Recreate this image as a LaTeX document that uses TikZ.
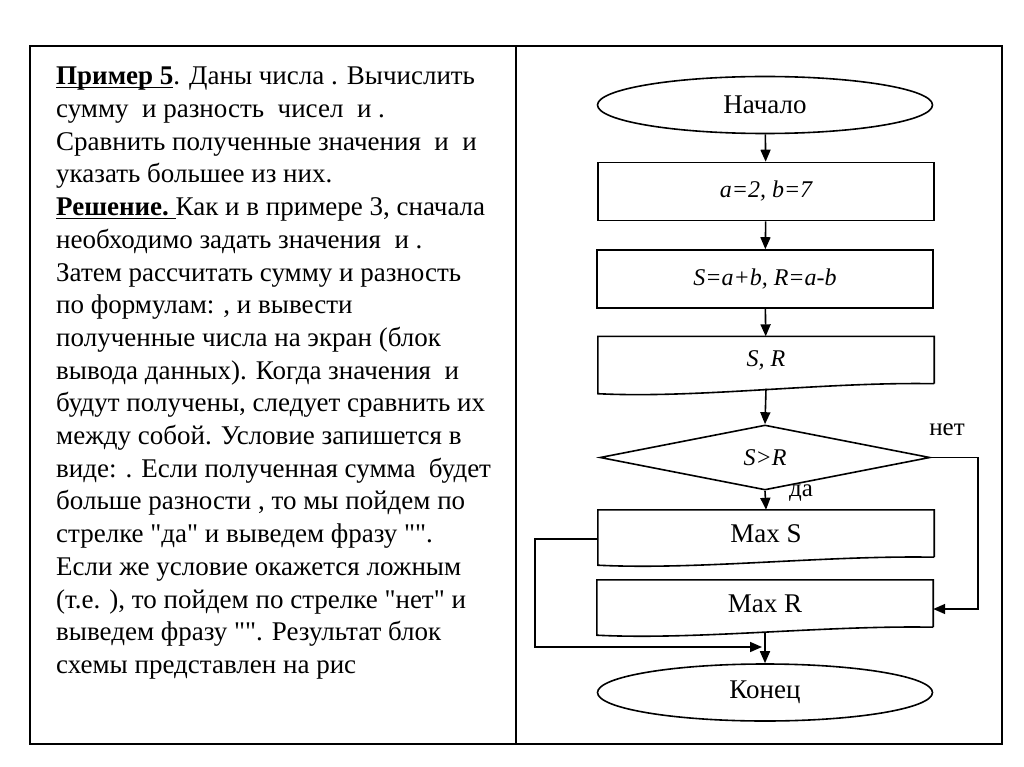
\documentclass[tikz,border=0pt]{standalone}
\usepackage{fontspec}
\setmainfont{Liberation Serif}[Ligatures=TeXOff]
\usetikzlibrary{shapes.geometric}
\usetikzlibrary{arrows.meta}

\tikzset{
    flow/.style={line width=1.6pt},
    arr/.style={flow, -{Triangle[length=12pt,width=10pt]}},
    term/.style={ellipse, draw, flow, minimum width=335pt, minimum height=57pt, inner sep=0pt, font=\fontsize{27}{30}\selectfont},
    proc/.style={rectangle, draw, flow, minimum width=336pt, minimum height=58pt, inner sep=0pt, font=\fontsize{24}{27}\selectfont\itshape},
    docbox/.style={rectangle, minimum width=336pt, minimum height=47pt, inner sep=0pt, font=\fontsize{27}{30}\selectfont},
    cond/.style={diamond, draw, flow, minimum width=330pt, minimum height=65pt, inner sep=0pt, aspect=5, font=\fontsize{24}{27}\selectfont\itshape},
    lbl/.style={font=\fontsize{25}{27}\selectfont, inner sep=0pt}
}

% underline at a fixed depth, crossing the descenders
\newcommand{\wordul}[1]{\setbox0\hbox{#1}\rlap{\rule[-3.6pt]{\wd0}{1.6pt}}\box0}

% outline of a document block with a wavy bottom
\newcommand{\docwave}[2]{%
    \draw[flow] (#1.south east) -- (#1.north east) -- (#1.north west) -- ([yshift=-#2]#1.south west)
        .. controls +(100,5) and +(-110,-2) .. (#1.south east);}

\begin{document}
\begin{tikzpicture}[x=1pt, y=-1pt]
    \useasboundingbox (0,0) rectangle (1024,767);
    %\draw[help lines] grid(1024,767);
    % -------------------------
    % Frame
    % -------------------------
    \draw[line width=2.2pt] (30,46) rectangle (1002,744);
    \draw[line width=2.2pt] (516,46) -- (516,744);

    % -------------------------
    % Left column: text
    % -------------------------
    \node[anchor=north west, inner sep=0pt, align=left, font=\fontsize{27}{32.7}\selectfont] (task) at (56,67) {%
        \wordul{\textbf{Пример 5}}. Даны числа . Вычислить\\
        сумму\ \ и разность\ \ чисел\ \ и .\\
        Сравнить полученные значения\ \ и\ \ и\\
        указать большее из них.\\
        \wordul{\textbf{Решение.}\ }Как и в примере 3, сначала\\
        необходимо задать значения\ \ и .\\
        Затем рассчитать сумму и разность\\
        по формулам: , и вывести\\
        полученные числа на экран (блок\\
        вывода данных). Когда значения\ \ и\\
        будут получены, следует сравнить их\\
        между собой. Условие запишется в\\
        виде: . Если полученная сумма\ \ будет\\
        больше разности , то мы пойдем по\\
        стрелке "да" и выведем фразу "".\\
        Если же условие окажется ложным\\
        (т.е. ), то пойдем по стрелке "нет" и\\
        выведем фразу "". Результат блок\\
        схемы представлен на рис};

    % -------------------------
    % Right column: flowchart
    % -------------------------
    \node[term] (start) at (765,105) {Начало};
    \node[proc] (init) at (766,191.5) {a=2, b=7};
    \node[proc] (calc) at (765,279) {S=a+b, R=a-b};
    \node[docbox, font=\fontsize{24}{27}\selectfont\itshape] (out) at (766,360) {S, R};
    \docwave{out}{10pt}
    \node[cond] (test) at (765,457.5) {S>R};
    \node[docbox] (maxs) at (766,533.5) {Max S};
    \docwave{maxs}{8pt}
    \node[docbox] (maxr) at (765,603.5) {Max R};
    \docwave{maxr}{8pt}
    \node[term] (stop) at (765,692.5) {Конец};

    % Arrows down the middle
    \draw[arr] (start) -- (init);
    \draw[arr] (init) -- (calc);
    \draw[arr] (calc) -- (out);
    \draw[arr] ([yshift=-5pt]out.south) -- (test.north);
    \draw[arr] (test.south) -- (maxs.north);
    \draw[arr] ([yshift=-5pt]maxr.south) -- (stop.north);

    % Branch "no"
    \draw[arr] (test.east) -- ++(47,0) |- ([yshift=-5.5pt]maxr.east);
    \node[lbl] (no) at (947,430) {нет};
    \node[lbl] (yes) at (801,493) {да};

    % Branch "yes" joins before the end
    \coordinate (join) at (762,647);
    \draw[arr] ([yshift=-5.5pt]maxs.west) -- ++(-63,0) |- (join);
\end{tikzpicture}
\end{document}
